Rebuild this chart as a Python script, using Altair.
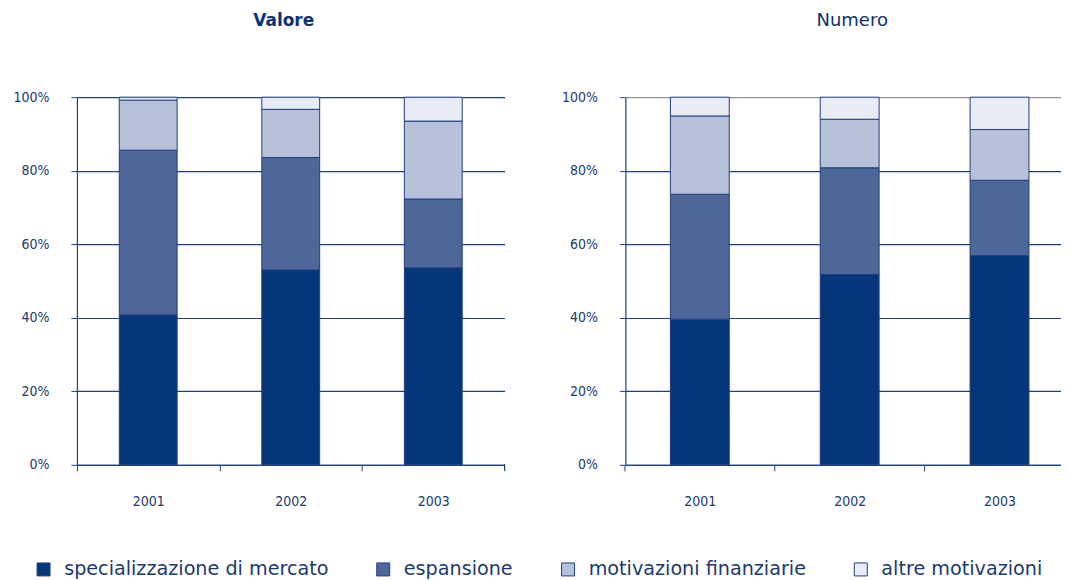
import altair as alt
import pandas as pd

anni = ["2001", "2002", "2003"]
categorie = ["specializzazione di mercato", "espansione",
             "motivazioni finanziarie", "altre motivazioni"]
colori = ["#05367A", "#4F6699", "#B8C1DA", "#E9ECF4"]

valore_specializzazione = [40.8, 53.0, 53.6]
valore_espansione = [44.8, 30.6, 18.7]
valore_finanziarie = [13.6, 13.1, 21.2]
valore_altre = [0.8, 3.3, 6.5]

numero_specializzazione = [39.6, 51.8, 56.9]
numero_espansione = [34.0, 29.0, 20.5]
numero_finanziarie = [21.3, 13.2, 13.8]
numero_altre = [5.1, 6.0, 8.8]

tick_valori = [0, 20, 40, 60, 80, 100]

DARK = "#1F3F7F"
TXT = "#1A3A6E"
LBL_FONT = "DejaVu Sans Condensed, DejaVu Sans"
FONT = "DejaVu Sans"


def build(series):
    rows = []
    for ci, (cat, vals) in enumerate(zip(categorie, series)):
        for anno, v in zip(anni, vals):
            rows.append({"anno": anno, "categoria": cat, "quota": v, "ord": ci})
    return pd.DataFrame(rows)


df_valore = build([valore_specializzazione, valore_espansione,
                   valore_finanziarie, valore_altre])
df_numero = build([numero_specializzazione, numero_espansione,
                   numero_finanziarie, numero_altre])

H = 368


def panel(df, width, step, xscale, title_params, grid_color, end_tick, extent):
    base = alt.Chart(df)
    bars = base.mark_bar(stroke=DARK, strokeWidth=1).encode(
        x=alt.X("anno:N", sort=anni, scale=xscale,
                axis=alt.Axis(title=None, labelAngle=0, tickOffset=-step / 2,
                              labelOffset=step / 2, tickSize=6, tickColor=DARK,
                              domainColor=DARK, domainWidth=1.2,
                              labelColor=TXT, labelFont=LBL_FONT, labelFontSize=14,
                              labelPadding=24, grid=False)),
        y=alt.Y("quota:Q", stack="zero",
                scale=alt.Scale(domain=[0, 100], nice=False),
                axis=alt.Axis(title=None, values=tick_valori,
                              labelExpr="datum.value + '%'",
                              tickSize=6, tickColor=DARK, domainColor=DARK,
                              domainWidth=1.2, grid=True, gridColor=grid_color,
                              gridWidth=1.2, gridOpacity=1,
                              labelColor=TXT, labelFont=LBL_FONT, labelFontSize=14,
                              labelPadding=22, minExtent=extent, maxExtent=extent)),
        color=alt.Color("categoria:N",
                        scale=alt.Scale(domain=categorie, range=colori),
                        legend=alt.Legend(title=None, orient="none",
                                          direction="horizontal", columns=4,
                                          legendX=-43, legendY=463,
                                          symbolType="square", symbolSize=169,
                                          symbolStrokeColor=DARK,
                                          symbolStrokeWidth=1,
                                          symbolOpacity=1,
                                          labelFont=FONT, labelFontSize=19.2,
                                          labelColor=TXT, labelOffset=11,
                                          columnPadding=45, labelLimit=400)),
        order=alt.Order("ord:Q", sort="ascending"),
    )
    layers = [bars]
    if end_tick:
        tick = alt.Chart(df).mark_rule(color=DARK, strokeWidth=1).encode(
            x=alt.value(width), y=alt.value(H), y2=alt.value(H + 6))
        layers.append(tick)
    return alt.layer(*layers).properties(
        width=width, height=H, title=title_params)


left = panel(
    df_valore, 428, 142.67,
    alt.Scale(paddingInner=0.594, paddingOuter=0.297),
    alt.TitleParams("Valore", fontSize=17, fontWeight="bold", color="#0B3272",
                    font=FONT, offset=60, anchor="middle", dx=-7),
    DARK, True, 69)

right = panel(
    df_numero, 436, 150,
    alt.Scale(paddingInner=0.607, paddingOuter=0.257, align=0.584),
    alt.TitleParams("Numero", fontSize=18, fontWeight="normal", color="#0B3272",
                    font=FONT, offset=60, anchor="middle", dx=9),
    alt.condition("datum.value == 100", alt.value("#8C9399"), alt.value(DARK)),
    False, 68)

chart = alt.hconcat(left, right, spacing=52).properties(
    padding={"left": 0, "top": 4, "right": 0, "bottom": 0},
    background="white"
).configure_view(stroke=None)

chart.save("out.html", embed_options={"renderer": "svg", "actions": False})
